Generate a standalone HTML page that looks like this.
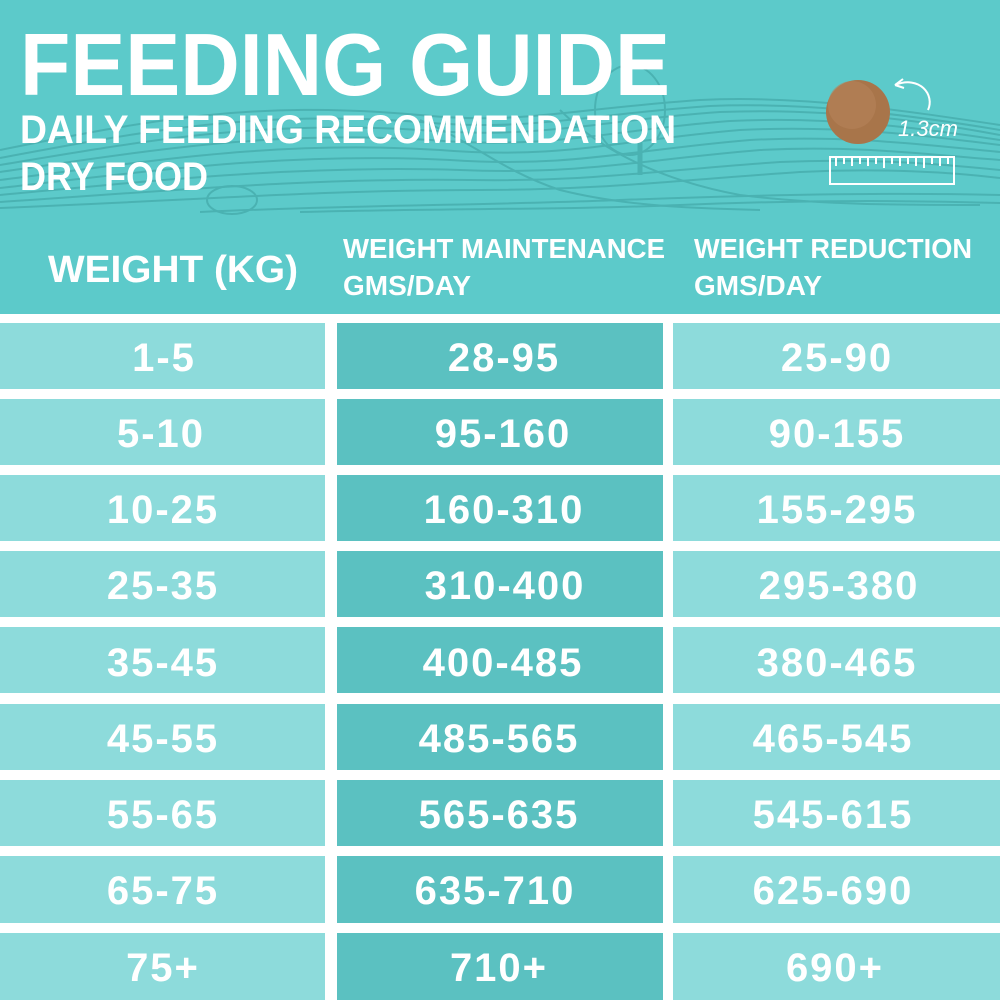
<!DOCTYPE html>
<html><head><meta charset="utf-8"><style>
html,body{margin:0;padding:0;background:#fff;}
svg{display:block;}
text{font-family:"Liberation Sans",sans-serif;font-weight:bold;fill:#fff;}
</style></head><body>
<svg width="1000" height="1000" viewBox="0 0 1000 1000" xmlns="http://www.w3.org/2000/svg">
<rect x="0" y="0" width="1000" height="314" fill="#5ccaca"/>
<g fill="none" stroke="#49b0b0" stroke-width="2" opacity="0.9">
<path d="M0 150 C150 120 250 100 420 115 C520 125 560 110 700 100 C800 95 900 110 1000 125"/>
<path d="M0 158 C150 130 255 110 420 122 C530 132 580 115 710 106 C810 102 910 115 1000 130"/>
<path d="M0 165 C150 140 260 120 420 130 C540 140 600 120 720 112 C820 108 920 120 1000 135"/>
<path d="M0 172 C155 150 270 130 430 140 C550 150 610 130 730 121 C830 116 920 128 1000 140"/>
<path d="M0 180 C160 160 280 140 440 150 C560 160 620 140 740 130 C840 125 920 135 1000 145"/>
<path d="M0 188 C160 170 290 152 450 160 C570 168 630 150 750 140 C850 135 925 145 1000 152"/>
<path d="M0 195 C160 180 300 165 460 170 C580 175 640 160 760 150 C860 145 930 155 1000 160"/>
<path d="M0 202 C180 190 310 178 470 180 C590 182 660 170 780 162 C870 158 940 164 1000 170"/>
<path d="M0 208 C200 200 320 190 480 190 C600 190 680 180 800 172 C880 168 950 172 1000 178"/>
<path d="M200 212 C350 205 500 205 620 200 C760 195 880 192 1000 195"/>
<path d="M300 212 C450 208 560 210 680 205 C800 200 900 200 1000 203"/>
<path d="M420 120 C470 140 500 170 560 190 C620 205 680 208 760 210"/>
<path d="M560 110 C600 150 660 180 740 195 C820 205 900 205 980 205"/>
<ellipse cx="630" cy="110" rx="35" ry="45"/>
<line x1="640" y1="140" x2="640" y2="175" stroke-width="5"/>
<ellipse cx="232" cy="200" rx="25" ry="14"/>
</g>
<text x="20" y="95" font-size="88" textLength="650" lengthAdjust="spacingAndGlyphs">FEEDING GUIDE</text>
<text x="20" y="143" font-size="40" textLength="656" lengthAdjust="spacingAndGlyphs">DAILY FEEDING RECOMMENDATION</text>
<text x="20" y="190" font-size="40" textLength="188" lengthAdjust="spacingAndGlyphs">DRY FOOD</text>
<circle cx="858" cy="112" r="32" fill="#a8754a"/>
<circle cx="852" cy="105" r="24" fill="#b5825a" opacity="0.6"/>
<path d="M895 85 C920 75 935 95 928 110" fill="none" stroke="#fff" stroke-width="2"/>
<path d="M895 85 l8 -6 M895 85 l9 3" fill="none" stroke="#fff" stroke-width="2"/>
<text x="898" y="136" font-size="22" font-style="italic" style="font-weight:normal">1.3cm</text>
<rect x="830" y="157" width="124" height="27" fill="none" stroke="#fff" stroke-width="2"/>
<path d="M836 158v8M844 158v6M852 158v8M860 158v6M868 158v8M876 158v6M884 158v10M892 158v6M900 158v8M908 158v6M916 158v8M924 158v10M932 158v6M940 158v8M948 158v6" stroke="#fff" stroke-width="2"/>
<text x="48" y="282" font-size="38" textLength="250" lengthAdjust="spacingAndGlyphs">WEIGHT (KG)</text>
<text x="343" y="258" font-size="28" textLength="322" lengthAdjust="spacingAndGlyphs">WEIGHT MAINTENANCE</text>
<text x="343" y="295" font-size="28" textLength="128" lengthAdjust="spacingAndGlyphs">GMS/DAY</text>
<text x="694" y="258" font-size="28" textLength="278" lengthAdjust="spacingAndGlyphs">WEIGHT REDUCTION</text>
<text x="694" y="295" font-size="28" textLength="128" lengthAdjust="spacingAndGlyphs">GMS/DAY</text>
<g>
<rect x="0" y="323" width="325" height="66" fill="#8ddbdb"/><rect x="337" y="323" width="326" height="66" fill="#5bc1c1"/><rect x="673" y="323" width="327" height="66" fill="#8ddbdb"/>
<rect x="0" y="399" width="325" height="66" fill="#8ddbdb"/><rect x="337" y="399" width="326" height="66" fill="#5bc1c1"/><rect x="673" y="399" width="327" height="66" fill="#8ddbdb"/>
<rect x="0" y="475" width="325" height="66" fill="#8ddbdb"/><rect x="337" y="475" width="326" height="66" fill="#5bc1c1"/><rect x="673" y="475" width="327" height="66" fill="#8ddbdb"/>
<rect x="0" y="551" width="325" height="66" fill="#8ddbdb"/><rect x="337" y="551" width="326" height="66" fill="#5bc1c1"/><rect x="673" y="551" width="327" height="66" fill="#8ddbdb"/>
<rect x="0" y="627" width="325" height="66" fill="#8ddbdb"/><rect x="337" y="627" width="326" height="66" fill="#5bc1c1"/><rect x="673" y="627" width="327" height="66" fill="#8ddbdb"/>
<rect x="0" y="704" width="325" height="66" fill="#8ddbdb"/><rect x="337" y="704" width="326" height="66" fill="#5bc1c1"/><rect x="673" y="704" width="327" height="66" fill="#8ddbdb"/>
<rect x="0" y="780" width="325" height="66" fill="#8ddbdb"/><rect x="337" y="780" width="326" height="66" fill="#5bc1c1"/><rect x="673" y="780" width="327" height="66" fill="#8ddbdb"/>
<rect x="0" y="856" width="325" height="67" fill="#8ddbdb"/><rect x="337" y="856" width="326" height="67" fill="#5bc1c1"/><rect x="673" y="856" width="327" height="67" fill="#8ddbdb"/>
<rect x="0" y="933" width="325" height="67" fill="#8ddbdb"/><rect x="337" y="933" width="326" height="67" fill="#5bc1c1"/><rect x="673" y="933" width="327" height="67" fill="#8ddbdb"/>
</g>
<g font-size="40" text-anchor="middle" letter-spacing="2">
<text x="164" y="371">1-5</text><text x="504" y="371">28-95</text><text x="837" y="371">25-90</text>
<text x="161" y="447">5-10</text><text x="503" y="447">95-160</text><text x="837" y="447">90-155</text>
<text x="163" y="523">10-25</text><text x="504" y="523">160-310</text><text x="837" y="523">155-295</text>
<text x="163" y="599">25-35</text><text x="505" y="599">310-400</text><text x="839" y="599">295-380</text>
<text x="163" y="676">35-45</text><text x="503" y="676">400-485</text><text x="837" y="676">380-465</text>
<text x="163" y="752">45-55</text><text x="499" y="752">485-565</text><text x="833" y="752">465-545</text>
<text x="163" y="828">55-65</text><text x="499" y="828">565-635</text><text x="833" y="828">545-615</text>
<text x="163" y="904">65-75</text><text x="495" y="904">635-710</text><text x="833" y="904">625-690</text>
<text x="163" y="981">75+</text><text x="499" y="981">710+</text><text x="835" y="981">690+</text>
</g>
</svg>
</body></html>
